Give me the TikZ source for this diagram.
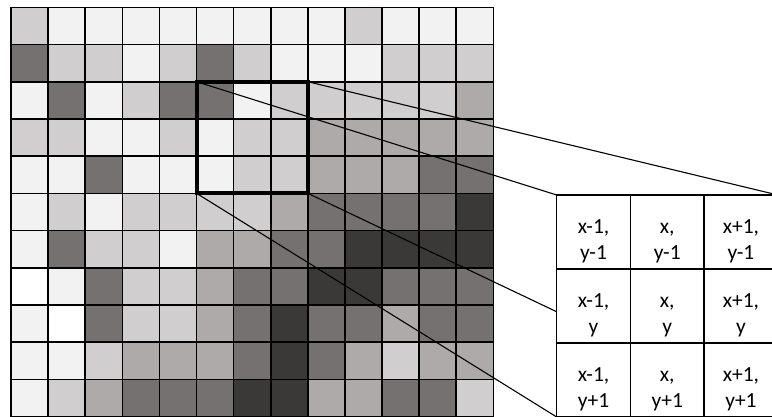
\documentclass[tikz,border=0pt]{standalone}
\usepackage{fontspec}
\setmainfont{Carlito}
\definecolor{gw}{HTML}{FFFFFF}
\definecolor{ga}{HTML}{F2F2F2}
\definecolor{gb}{HTML}{D0CECE}
\definecolor{gc}{HTML}{AEAAAA}
\definecolor{gd}{HTML}{757171}
\definecolor{ge}{HTML}{3B3838}
\pgfdeclarelayer{front}
\pgfsetlayers{main,front}
\newcommand\celltxt[2]{\rule{0pt}{33.6pt}#1\\#2\rule[-5pt]{0pt}{5pt}}
\begin{document}
\begin{tikzpicture}[x=1pt,y=-1pt,
  gridline/.style={line width=1.6pt, draw=black},
  conn/.style={line width=1.1pt, draw=black},
  tcell/.style={draw=black, line width=1.5pt, fill=white, minimum width=73.7pt, minimum height=74pt,
    inner sep=0pt, outer sep=0pt, anchor=north west, align=center, font=\fontsize{21.5}{26}\selectfont},
  focus/.style={draw=black, line width=4pt, minimum width=111.3pt, minimum height=111.6pt,
    inner sep=0pt, outer sep=0pt, anchor=north west}]
\useasboundingbox (0,0) rectangle (772,416);
\clip (0,0) rectangle (772,416);
% pixel grid
\foreach \rowcols [count=\r from 0] in {
  {b,a,a,a,a,a,a,a,a,b,a,a,a},
  {d,b,b,a,b,d,b,a,a,a,b,b,b},
  {a,d,a,b,d,d,a,b,b,b,b,b,c},
  {b,b,a,a,b,a,b,b,c,c,c,c,c},
  {a,a,d,a,a,a,b,b,c,c,c,d,d},
  {a,b,a,b,b,b,b,c,d,d,d,d,e},
  {a,d,b,b,a,c,c,d,d,e,e,e,e},
  {w,a,d,b,b,c,d,d,e,e,d,d,d},
  {a,w,d,b,b,c,d,e,d,d,c,d,d},
  {a,a,b,c,c,c,d,e,d,c,b,c,c},
  {a,b,c,d,d,d,e,e,c,c,d,d,b}} {
  \foreach \c [count=\k from 0] in \rowcols {
    \fill[fill=g\c] ({11+\k*37.1},{7.3+\r*37.2}) rectangle ++(37.1,37.2);
  }
}
\foreach \k in {0,...,13} \draw[gridline] ({11+\k*37.1},7.3) -- ({11+\k*37.1},416.5);
\foreach \r in {0,...,11} \draw[gridline] (11,{7.3+\r*37.2}) -- (493.3,{7.3+\r*37.2});
% focus window
\node[focus] (sq) at (196.5,81.7) {};
% neighbourhood table
\begin{pgfonlayer}{front}
\node[tcell] (c00) at (556.7,195) {\celltxt{x-1,}{y-1}};
\node[tcell] (c01) at (630.4,195) {\celltxt{x,}{y-1}};
\node[tcell] (c02) at (704.1,195) {\celltxt{x+1,}{y-1}};
\node[tcell] (c10) at (556.7,269) {\celltxt{x-1,}{y}};
\node[tcell] (c11) at (630.4,269) {\celltxt{x,}{y}};
\node[tcell] (c12) at (704.1,269) {\celltxt{x+1,}{y}};
\node[tcell] (c20) at (556.7,343) {\celltxt{x-1,}{y+1}};
\node[tcell] (c21) at (630.4,343) {\celltxt{x,}{y+1}};
\node[tcell] (c22) at (704.1,343) {\celltxt{x+1,}{y+1}};
\end{pgfonlayer}
% connectors
\draw[conn] (sq.north west) -- (c00.north west);
\draw[conn] (sq.north east) -- (c02.north east);
\draw[conn] (sq.south west) -- (c20.south west);
\draw[conn] (sq.south east) -- (c22.south east);
\end{tikzpicture}
\end{document}
